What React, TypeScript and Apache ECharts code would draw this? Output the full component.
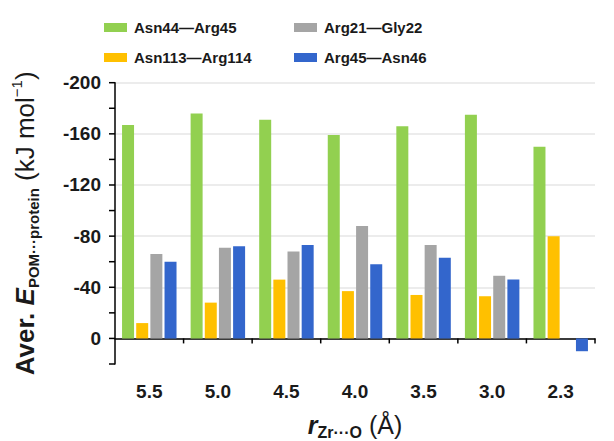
import React, { useEffect, useRef } from "react";
import * as echarts from "echarts";

const categories = ["5.5", "5.0", "4.5", "4.0", "3.5", "3.0", "2.3"];
const asn44Arg45 = [-167, -176, -171, -159, -166, -175, -150];
const asn113Arg114 = [-12, -28, -46, -37, -34, -33, -80];
const arg21Gly22 = [-66, -71, -68, -88, -73, -49, null];
const arg45Asn46 = [-60, -72, -73, -58, -63, -46, 10];
const seriesNames = ["Asn44—Arg45", "Asn113—Arg114", "Arg21—Gly22", "Arg45—Asn46"];
const seriesColors = ["#92d050", "#ffc000", "#a5a5a5", "#3366cc"];
const yTickValues = [-200, -180, -160, -140, -120, -100, -80, -60, -40, -20, 0, 20];

const FONT = "Arial, 'Liberation Sans', sans-serif";
const TICK_COLOR = "#000000";

export default function App() {
  const ref = useRef<HTMLDivElement>(null);
  useEffect(() => {
    if (!ref.current) return;
    const chart = echarts.init(ref.current, null, { renderer: "svg" });
    const values = [asn44Arg45, asn113Arg114, arg21Gly22, arg45Asn46];
    const legendText = {
      fontFamily: FONT,
      fontWeight: "bold" as const,
      fontSize: 15,
      color: "#1a1a1a",
      padding: [0, 0, 0, 2],
    };
    const barSeries = seriesNames.map((name, i) => ({
      name,
      type: "bar",
      data: values[i],
      barWidth: 12,
      barGap: "18%",
      itemStyle: { color: seriesColors[i] },
    }));
    chart.setOption({
      animation: false,
      backgroundColor: "#ffffff",
      textStyle: { fontFamily: FONT },
      legend: [
        {
          data: [seriesNames[0], seriesNames[1]],
          orient: "vertical",
          left: 99,
          top: 15,
          itemGap: 15,
          itemWidth: 23,
          itemHeight: 9,
          icon: "rect",
          textStyle: legendText,
        },
        {
          data: [seriesNames[2], seriesNames[3]],
          orient: "vertical",
          left: 289,
          top: 15,
          itemGap: 15,
          itemWidth: 23,
          itemHeight: 9,
          icon: "rect",
          textStyle: legendText,
        },
      ],
      grid: { left: 115, right: 19, top: 82.7, bottom: 77, containLabel: false, outerBoundsMode: "none" },
      xAxis: {
        type: "category",
        data: categories,
        axisLine: { show: true, onZero: true, lineStyle: { color: "#000", width: 1.5 } },
        axisTick: { show: false },
        axisLabel: {
          margin: 18,
          fontFamily: FONT,
          fontWeight: "bold",
          fontSize: 19,
          color: "#1a1a1a",
        },
        name: "{r|r}{s|Zr···O}{b| (Å)}",
        nameLocation: "middle",
        nameGap: 46,
        nameMoveOverlap: false,
        nameTextStyle: {
          rich: {
            r: { fontFamily: FONT, fontWeight: "bold", fontStyle: "italic", fontSize: 25, color: "#1a1a1a", verticalAlign: "middle", lineHeight: 30 },
            s: { fontFamily: FONT, fontWeight: "bold", fontSize: 16, color: "#1a1a1a", verticalAlign: "bottom", lineHeight: 30 },
            b: { fontFamily: FONT, fontSize: 25, color: "#1a1a1a", verticalAlign: "middle", lineHeight: 30 },
          },
        },
      },
      yAxis: {
        type: "value",
        inverse: true,
        min: -200,
        max: 20,
        interval: 20,
        axisLine: { show: true, lineStyle: { color: "#000", width: 1.5 } },
        axisTick: { show: false },
        axisLabel: {
          margin: 14,
          fontFamily: FONT,
          fontWeight: "bold",
          fontSize: 19,
          color: "#1a1a1a",
          formatter: (v: number) => (v % 40 === 0 && v <= 0 ? String(v) : ""),
        },
        splitLine: {
          show: true,
          lineStyle: { color: ["#e6e6e6", "rgba(0,0,0,0)"], width: 1.5 },
        },
        name: "{a|Aver. }{e|E}{s|POM···protein}{b| (kJ mol}{p|−1}{b|)}",
        nameLocation: "middle",
        nameRotate: 90,
        nameGap: 74,
        nameTextStyle: {
          rich: {
            a: { fontFamily: FONT, fontWeight: "bold", fontSize: 26, color: "#1a1a1a", verticalAlign: "middle", lineHeight: 32 },
            e: { fontFamily: FONT, fontWeight: "bold", fontStyle: "italic", fontSize: 26, color: "#1a1a1a", verticalAlign: "middle", lineHeight: 32 },
            s: { fontFamily: FONT, fontWeight: "bold", fontSize: 15, color: "#1a1a1a", verticalAlign: "bottom", lineHeight: 32 },
            b: { fontFamily: FONT, fontSize: 26, color: "#1a1a1a", verticalAlign: "middle", lineHeight: 32 },
            p: { fontFamily: FONT, fontSize: 15, color: "#1a1a1a", verticalAlign: "top", lineHeight: 32 },
          },
        },
      },
      series: barSeries,
    });

    // Axis ticks, positioned through the chart's own axes.
    try {
      const yPx = (v: number) => Number(chart.convertToPixel({ yAxisIndex: 0 }, v));
      const xPx = (i: number) => Number(chart.convertToPixel({ xAxisIndex: 0 }, i));
      const x0 = xPx(0);
      const x1 = xPx(1);
      const band = x1 - x0;
      const leftEdge = x0 - band / 2;
      const yTop = yPx(-200);
      const yBottom = yPx(20);
      const zeroY = yPx(0);
      const expectedZero = yTop + ((yBottom - yTop) * 200) / 220;
      const yOk =
        isFinite(yTop) && isFinite(yBottom) && isFinite(zeroY) &&
        yTop < zeroY && zeroY < yBottom && Math.abs(zeroY - expectedZero) < 3;
      const xOk = isFinite(x0) && isFinite(band) && band > 0;
      const graphics: any[] = [];
      if (yOk && xOk) {
        yTickValues.forEach((v) => {
          const y = yPx(v);
          graphics.push({
            type: "rect",
            silent: true,
            z: 100,
            shape: { x: leftEdge - 6, y: y - 0.75, width: 6, height: 1.5 },
            style: { fill: TICK_COLOR },
          });
        });
        categories.forEach((_, i) => {
          const x = xPx(i) + band / 2;
          graphics.push({
            type: "rect",
            silent: true,
            z: 100,
            shape: { x: x - 0.75, y: zeroY, width: 1.5, height: 5 },
            style: { fill: TICK_COLOR },
          });
        });
        chart.setOption({ graphic: graphics });
      }
    } catch (e) {
      // ignore
    }

    return () => chart.dispose();
  }, []);
  return (
    <div
      ref={ref}
      style={{ position: "fixed", left: 0, top: 0, width: 614, height: 441, background: "#fff" }}
    />
  );
}
